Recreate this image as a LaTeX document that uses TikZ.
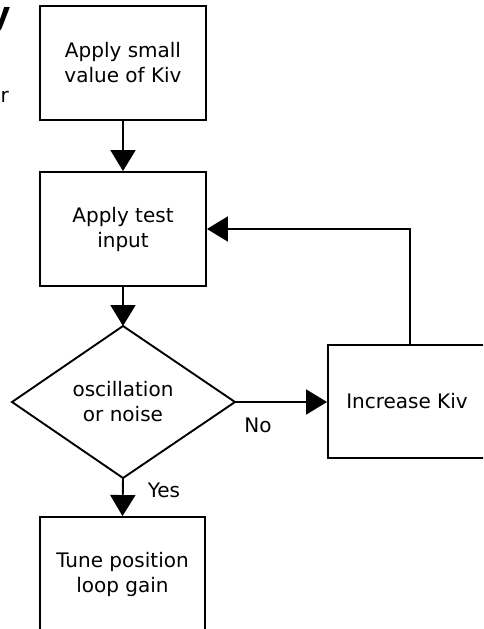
\documentclass[tikz,border=0pt]{standalone}
\usepackage{fontspec}
\setmainfont{DejaVu Sans}
\usetikzlibrary{shapes.geometric,arrows.meta}
\begin{document}
\begin{tikzpicture}[x=1pt,y=-1pt,
  every node/.style={font=\fontsize{20}{25}\selectfont},
  procbox/.style={draw,line width=1.9pt,minimum width=166pt,minimum height=114pt,align=center,inner sep=0pt},
  flow/.style={line width=1.9pt,-{Triangle[length=21pt,width=25pt]}},
  lbl/.style={inner sep=0pt}]
\useasboundingbox (0,0) rectangle (483,629);
\clip (0,0) rectangle (483,629);
\node[anchor=base east,inner sep=0pt,font=\fontsize{33}{36}\bfseries] (ttl) at (11,25) {y};
\node[anchor=base east,inner sep=0pt] (frag) at (9,102) {r};
\node[procbox] (b1) at (123,63) {Apply small\\value of Kiv};
\node[procbox] (b2) at (123,229) {Apply test\\input};
\coordinate (dtop) at (123,326);
\coordinate (dright) at (235,402);
\coordinate (dbot) at (123,478);
\coordinate (dleft) at (12,402);
\draw[line width=1.9pt] (dtop) -- (dright) -- (dbot) -- (dleft) -- cycle;
\node[align=center,inner sep=0pt] (dt) at (123,402) {oscillation\\or noise};
\node[procbox,minimum width=158pt,minimum height=113pt] (b3) at (407,401.5) {Increase Kiv};
\node[procbox,minimum width=165pt] (b4) at (122.5,574) {Tune position\\loop gain};
\draw[flow] (b1.south) -- (b2.north);
\draw[flow] (b2.south) -- (dtop);
\draw[flow] (dright) -- (dright -| b3.west);
\draw[flow] (dbot) -- (b4.north);
\draw[flow] ([xshift=3pt]b3.north) |- (b2.east);
\node[lbl] (no) at (258,425) {No};
\node[lbl] (yes) at (164,490) {Yes};
\end{tikzpicture}
\end{document}
